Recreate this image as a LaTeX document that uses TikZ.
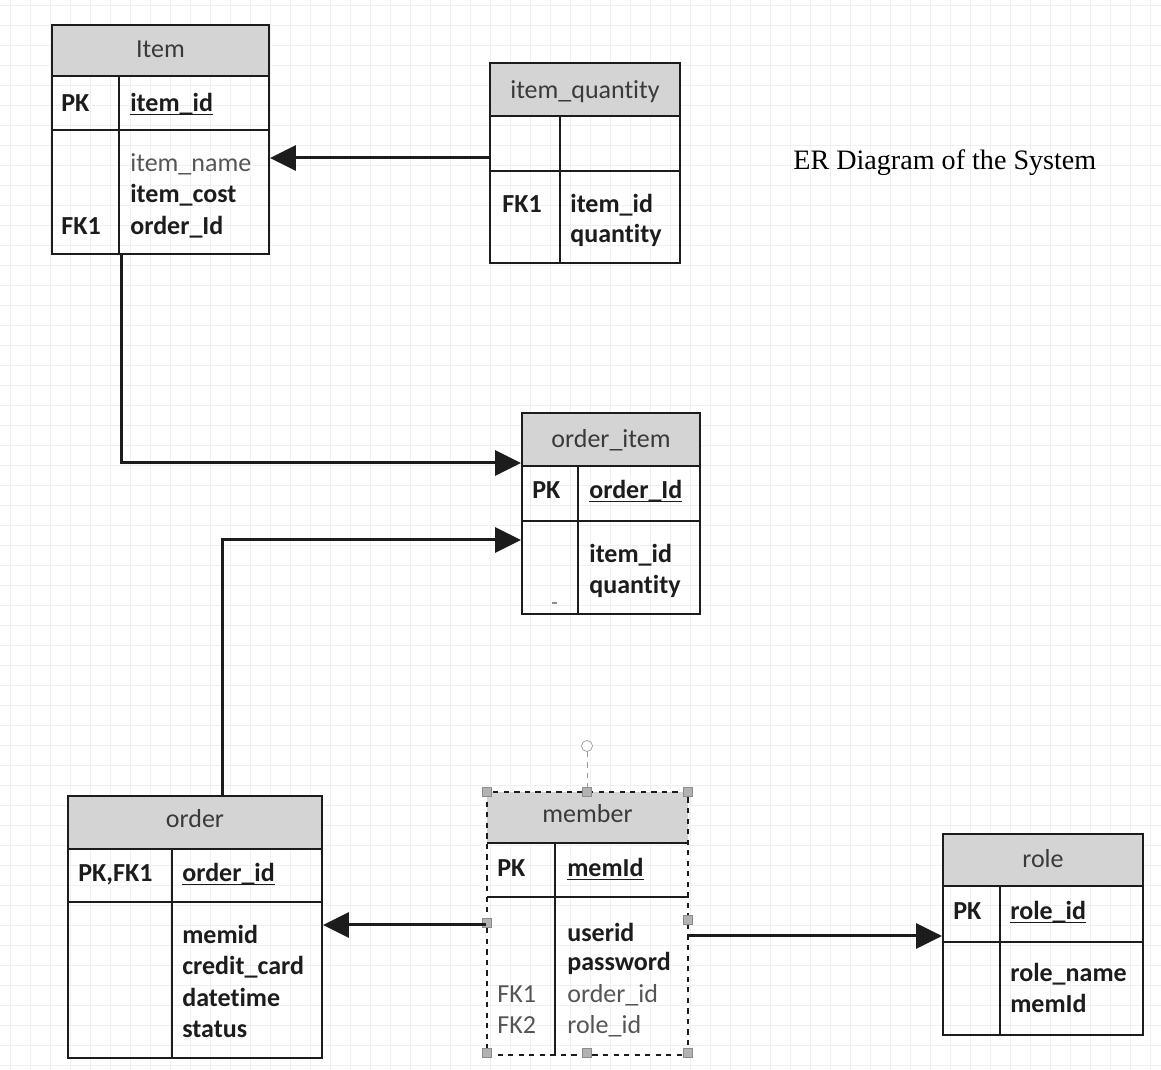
\documentclass[tikz,border=0pt]{standalone}
\usepackage{fontspec}
\setmainfont{Carlito}[Ligatures=NoCommon]
\newfontfamily\titlefont{Liberation Serif}
\usetikzlibrary{arrows.meta,fit}
\definecolor{hdrgray}{HTML}{D4D4D4}
\definecolor{hdrtext}{HTML}{3A3A3A}
\definecolor{txtdark}{HTML}{1C1C1C}
\definecolor{txtgray}{HTML}{555555}
\definecolor{gridgray}{HTML}{F0F0F0}
\newcommand{\keyfield}[1]{\underline{\smash{#1}}}
\begin{document}
\begin{tikzpicture}[x=0.02cm,y=-0.02cm,
    font=\fontsize{14.8}{17}\selectfont,
    tbl/.style={draw=txtdark,line width=0.04cm,inner sep=0pt},
    fld/.style={anchor=base west,inner sep=0pt,font=\fontsize{14.8}{17}\selectfont\bfseries,text=txtdark},
    fldlight/.style={fld,font=\fontsize{14.8}{17}\selectfont\mdseries,text=txtgray},
    ttl/.style={anchor=base,inner sep=0pt,text=hdrtext},
    rel/.style={line width=0.06cm,draw=txtdark,-{Triangle[length=0.52cm,width=0.5cm]}},
    handle/.style={draw=black!45,fill=black!30,inner sep=0pt,minimum size=0.18cm},
    rothandle/.style={circle,draw=black!40,fill=white,inner sep=0pt,minimum size=0.22cm}]
\useasboundingbox (0,0) rectangle (1161,1070);

% faint background grid
\foreach \gx in {10,30,...,1150} \draw[gridgray,line width=0.3pt] (\gx,0) -- (\gx,1070);
\foreach \gy in {5,25,...,1065} \draw[gridgray,line width=0.3pt] (0,\gy) -- (1161,\gy);

% Title
\node[anchor=base west,inner sep=0pt,font=\titlefont\fontsize{16}{19}\selectfont] (title) at (793,170) {ER Diagram of the System};

% Table Item
\fill[hdrgray] (52,25) rectangle (269,76);
\node[tbl,fit={(52,25)(269,254)}] (item) {};
\draw[tbl] (52,76) -- (269,76);
\draw[tbl] (52,130) -- (269,130);
\draw[tbl] (119,76) -- (119,254);
\node[ttl] (item-name) at (160.5,58) {Item};
\node[fld] (item-pk) at (61,112) {PK};
\node[fld] (item-id) at (130,112) {\keyfield{item\_id}};
\node[fldlight] (item-a1) at (130,172) {item\_name};
\node[fld] (item-a2) at (130,203) {item\_cost};
\node[fld] (item-a3) at (130,235) {order\_Id};
\node[fld] (item-fk) at (61,235) {FK1};

% Table item_quantity
\fill[hdrgray] (490,63) rectangle (680,116);
\node[tbl,fit={(490,63)(680,263)}] (itemqty) {};
\draw[tbl] (490,116) -- (680,116);
\draw[tbl] (490,171) -- (680,171);
\draw[tbl] (560,116) -- (560,263);
\node[ttl] (itemqty-name) at (585,99) {item\_quantity};
\node[fld] (itemqty-fk) at (502,213) {FK1};
\node[fld] (itemqty-a1) at (570,213) {item\_id};
\node[fld] (itemqty-a2) at (570,243) {quantity};

% Table order_item
\fill[hdrgray] (522,413) rectangle (700,466);
\node[tbl,fit={(522,413)(700,614)}] (orderitem) {};
\draw[tbl] (522,466) -- (700,466);
\draw[tbl] (522,521) -- (700,521);
\draw[tbl] (578,466) -- (578,614);
\node[ttl] (orderitem-name) at (611,448) {order\_item};
\node[fld] (orderitem-pk) at (532,499) {PK};
\node[fld] (orderitem-id) at (589,499) {\keyfield{order\_Id}};
\node[fld] (orderitem-a1) at (589,563) {item\_id};
\node[fld] (orderitem-a2) at (589,594) {quantity};
\fill[black!45] (552,602) rectangle (557,604.5);

% Table order
\fill[hdrgray] (68,796) rectangle (322,849);
\node[tbl,fit={(68,796)(322,1058)}] (order) {};
\draw[tbl] (68,849) -- (322,849);
\draw[tbl] (68,902) -- (322,902);
\draw[tbl] (172,849) -- (172,1058);
\node[ttl] (order-name) at (195,828) {order};
\node[fld] (order-pk) at (78,882) {PK,FK1};
\node[fld] (order-id) at (182,882) {\keyfield{order\_id}};
\node[fld] (order-a1) at (182,944) {memid};
\node[fld] (order-a2) at (182,975) {credit\_card};
\node[fld] (order-a3) at (182,1007) {datetime};
\node[fld] (order-a4) at (182,1038) {status};

% Table member (selected)
\fill[hdrgray] (487,792) rectangle (688,843);
\node[tbl,dashed,line width=0.03cm,fit={(487,792)(688,1055)}] (member) {};
\draw[tbl] (487,843) -- (688,843);
\draw[tbl] (487,897) -- (688,897);
\draw[tbl] (555,843) -- (555,1055);
\node[ttl] (member-name) at (587.5,823) {member};
\node[fld] (member-pk) at (497,877) {PK};
\node[fld] (member-id) at (567,877) {\keyfield{memId}};
\node[fld] (member-a1) at (567,942) {userid};
\node[fld] (member-a2) at (567,971) {password};
\node[fldlight] (member-a3) at (567,1003) {order\_id};
\node[fldlight] (member-a4) at (567,1034) {role\_id};
\node[fldlight] (member-fk1) at (497,1003) {FK1};
\node[fldlight] (member-fk2) at (497,1034) {FK2};
\node[rothandle] (member-rot) at (587,746) {};
\node[handle] (member-h1) at (487,792) {};
\node[handle] (member-h2) at (587,792) {};
\node[handle] (member-h3) at (688,792) {};
\node[handle] (member-h4) at (487,923) {};
\node[handle] (member-h5) at (688,920) {};
\node[handle] (member-h6) at (487,1053) {};
\node[handle] (member-h7) at (587,1053) {};
\node[handle] (member-h8) at (688,1053) {};
\draw[black!40,dashed,line width=0.02cm] (member-rot) -- (member-h2);

% Table role
\fill[hdrgray] (943,834) rectangle (1143,886);
\node[tbl,fit={(943,834)(1143,1035)}] (role) {};
\draw[tbl] (943,886) -- (1143,886);
\draw[tbl] (943,942) -- (1143,942);
\draw[tbl] (1000,886) -- (1000,1035);
\node[ttl] (role-name) at (1043,868) {role};
\node[fld] (role-pk) at (953,920) {PK};
\node[fld] (role-id) at (1010,920) {\keyfield{role\_id}};
\node[fld] (role-a1) at (1010,982) {role\_name};
\node[fld] (role-a2) at (1010,1013) {memId};

% Relations
\draw[rel] (itemqty.west |- 0,158) -- (item.east |- 0,158);
\draw[rel] (item.south west) ++(70,0) |- (orderitem.west |- 0,463);
\draw[rel] (order.north west) ++(155,0) |- (orderitem.west |- 0,540);
\draw[rel] (member.west |- 0,925) -- (order.east |- 0,925);
\draw[rel] (member.east |- 0,936) -- (role.west |- 0,936);
\end{tikzpicture}
\end{document}
